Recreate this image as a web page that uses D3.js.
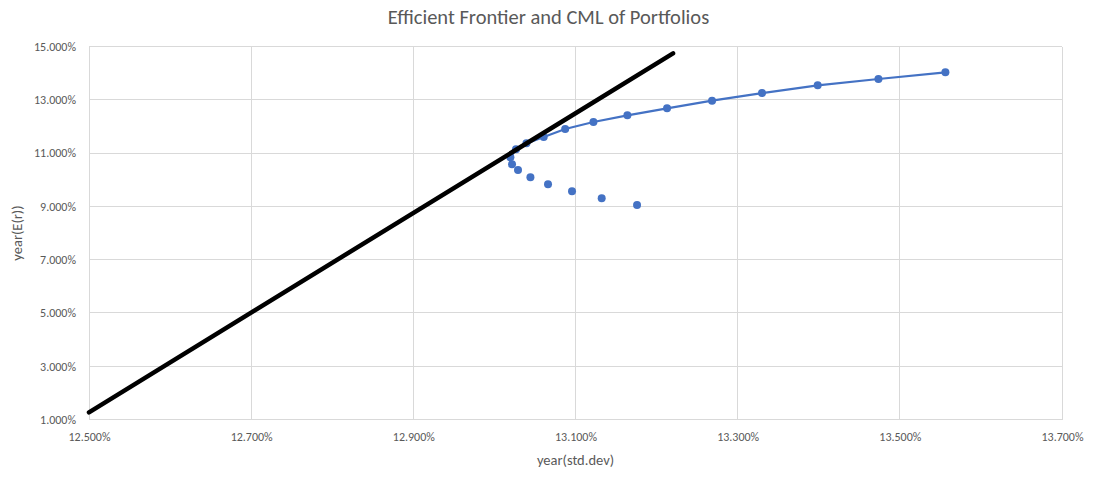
<!DOCTYPE html>
<html>
<head>
<meta charset="utf-8">
<script src="https://cdn.jsdelivr.net/npm/d3@7"></script>
<style>
  html, body { margin: 0; padding: 0; background: #fff; }
  svg { display: block; }
</style>
</head>
<body>
<svg id="chart" width="1097" height="477"></svg>
<script>
// Efficient frontier (upper branch, joined by a line), in percent
const frontierStd = [13.0197, 13.0266, 13.0395, 13.0608, 13.0873, 13.1221, 13.1640, 13.2129, 13.2684, 13.3300, 13.3987, 13.4736, 13.5562];
const frontierRet = [10.841, 11.141, 11.366, 11.603, 11.903, 12.166, 12.417, 12.680, 12.965, 13.254, 13.544, 13.780, 14.032];

// Lower (inefficient) branch of the minimum-variance set, markers only
const lowerStd = [13.0217, 13.0291, 13.0444, 13.0661, 13.0957, 13.1323, 13.1759];
const lowerRet = [10.578, 10.364, 10.090, 9.827, 9.565, 9.302, 9.050];

// Capital market line
const cmlStd = [12.5, 13.2203];
const cmlRet = [1.269, 14.745];

const xTicks = [12.5, 12.7, 12.9, 13.1, 13.3, 13.5, 13.7];
const yTicks = [1, 3, 5, 7, 9, 11, 13, 15];

const title = "Efficient Frontier and CML of Portfolios";
const xTitle = "year(std.dev)";
const yTitle = "year(E(r))";

const svg = d3.select("#chart");
const W = 1097, H = 477;
const m = { left: 89, right: 1062, top: 46.5, bottom: 419.5 };
const font = "Calibri, Carlito, 'Open Sans', sans-serif";
const textColor = "#595959";
const gridColor = "#d9d9d9";
const blue = "#4472C4";

const x = d3.scaleLinear().domain([12.5, 13.7]).range([m.left, m.right]);
const y = d3.scaleLinear().domain([1, 15]).range([m.bottom, m.top]);
const fmt = v => v.toFixed(3) + "%";

// Gridlines
const grid = svg.append("g");
grid.selectAll("line.v").data(xTicks).join("line")
  .attr("x1", d => x(d)).attr("x2", d => x(d))
  .attr("y1", m.top).attr("y2", m.bottom)
  .attr("stroke", gridColor).attr("stroke-width", 1).attr("shape-rendering", "crispEdges");
grid.selectAll("line.h").data(yTicks).join("line")
  .attr("x1", m.left).attr("x2", m.right)
  .attr("y1", d => y(d)).attr("y2", d => y(d))
  .attr("stroke", gridColor).attr("stroke-width", 1).attr("shape-rendering", "crispEdges");

// Axes (labels only; the rules come from the gridlines)
const xAxis = d3.axisBottom(x).tickValues(xTicks).tickFormat(fmt).tickSize(0).tickPadding(13);
const gx = svg.append("g").attr("transform", `translate(0,${m.bottom})`).call(xAxis);
gx.select(".domain").remove();
gx.selectAll("text").attr("fill", textColor).style("font-family", font).style("font-size", "12px");

const yAxis = d3.axisLeft(y).tickValues(yTicks).tickFormat(fmt).tickSize(0).tickPadding(13);
const gy = svg.append("g").attr("transform", `translate(${m.left},0)`).call(yAxis);
gy.select(".domain").remove();
gy.selectAll("text").attr("fill", textColor).style("font-family", font).style("font-size", "12px");

// Titles
svg.append("text").attr("x", W / 2).attr("y", 24).attr("text-anchor", "middle")
  .attr("fill", textColor).style("font-family", font).style("font-size", "20.5px").text(title);
svg.append("text").attr("x", (m.left + m.right) / 2).attr("y", 465).attr("text-anchor", "middle")
  .attr("fill", textColor).style("font-family", font).style("font-size", "14.5px").text(xTitle);
svg.append("text").attr("transform", `translate(22,${(m.top + m.bottom) / 2}) rotate(-90)`)
  .attr("text-anchor", "middle")
  .attr("fill", textColor).style("font-family", font).style("font-size", "14.5px").text(yTitle);

// Frontier line and markers
const frontier = frontierStd.map((s, i) => ({ s, r: frontierRet[i] }));
const lower = lowerStd.map((s, i) => ({ s, r: lowerRet[i] }));
const line = d3.line().x(d => x(d.s)).y(d => y(d.r));

svg.append("path").datum(frontier).attr("d", line)
  .attr("fill", "none").attr("stroke", blue).attr("stroke-width", 2.25);

svg.append("g").selectAll("circle").data(frontier.concat(lower)).join("circle")
  .attr("cx", d => x(d.s)).attr("cy", d => y(d.r)).attr("r", 4)
  .attr("fill", blue);

// CML
const cml = cmlStd.map((s, i) => ({ s, r: cmlRet[i] }));
svg.append("path").datum(cml).attr("d", line)
  .attr("fill", "none").attr("stroke", "#000").attr("stroke-width", 4.5).attr("stroke-linecap", "round");
</script>
</body>
</html>
